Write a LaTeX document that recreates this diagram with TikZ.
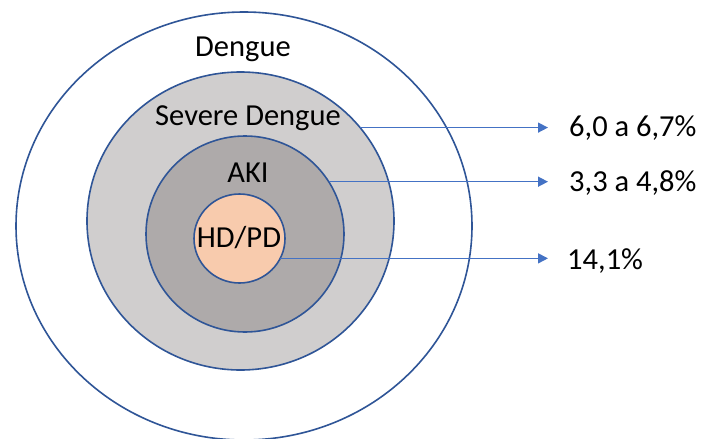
\documentclass[tikz,border=0pt]{standalone}
\usepackage{fontspec}
\setmainfont{Carlito}
\usetikzlibrary{arrows.meta,shapes.geometric}
\definecolor{ringline}{HTML}{2F5597}
\definecolor{arrowblue}{HTML}{4472C4}
\definecolor{sevfill}{HTML}{D0CECE}
\definecolor{akifill}{HTML}{AEAAAA}
\definecolor{hdfill}{HTML}{F8CBAD}
\begin{document}
\begin{tikzpicture}[x=1pt,y=-1pt,
  ring/.style={ellipse,draw=ringline,line width=1.6pt,inner sep=0pt,outer sep=0pt},
  lbl/.style={anchor=base,inner sep=0pt,font=\fontsize{30.5}{36}\selectfont},
  pct/.style={anchor=base west,inner sep=0pt,font=\fontsize{30.5}{36}\selectfont},
  arr/.style={draw=arrowblue,line width=1.5pt,-{Triangle[length=10pt,width=10pt]}}]
\useasboundingbox (0,0) rectangle (702,439);
\begin{scope}
\clip (0,0) rectangle (702,439);
\node[ring,fill=white,minimum width=456pt,minimum height=428pt] (dengue) at (244,226) {};
\end{scope}
\node[ring,fill=sevfill,minimum width=307pt,minimum height=298pt] (sev) at (240.5,221) {};
\node[ring,fill=akifill,minimum width=198pt,minimum height=196pt] (aki) at (245,234) {};
\node[ring,fill=hdfill,minimum width=91pt,minimum height=89pt] (hdpd) at (239.5,238.5) {};
\node[lbl] (tdengue) at (243,56) {Dengue};
\node[lbl] (tsev) at (248,125) {Severe Dengue};
\node[lbl] (taki) at (248,182) {AKI};
\node[lbl] (thdpd) at (239,247) {HD/PD};
\node[pct] (p1) at (569,136) {6,0 a 6,7\%};
\node[pct] (p2) at (569,191) {3,3 a 4,8\%};
\node[pct] (p3) at (567,269) {14,1\%};
\coordinate (tipx) at (548,0);
\draw[arr] (sev.38.28) -- (sev.38.28 -| tipx);
\draw[arr] (aki.32.47) -- (aki.32.47 -| tipx);
\draw[arr] (hdpd.-26.78) -- (hdpd.-26.78 -| tipx);
\end{tikzpicture}
\end{document}
